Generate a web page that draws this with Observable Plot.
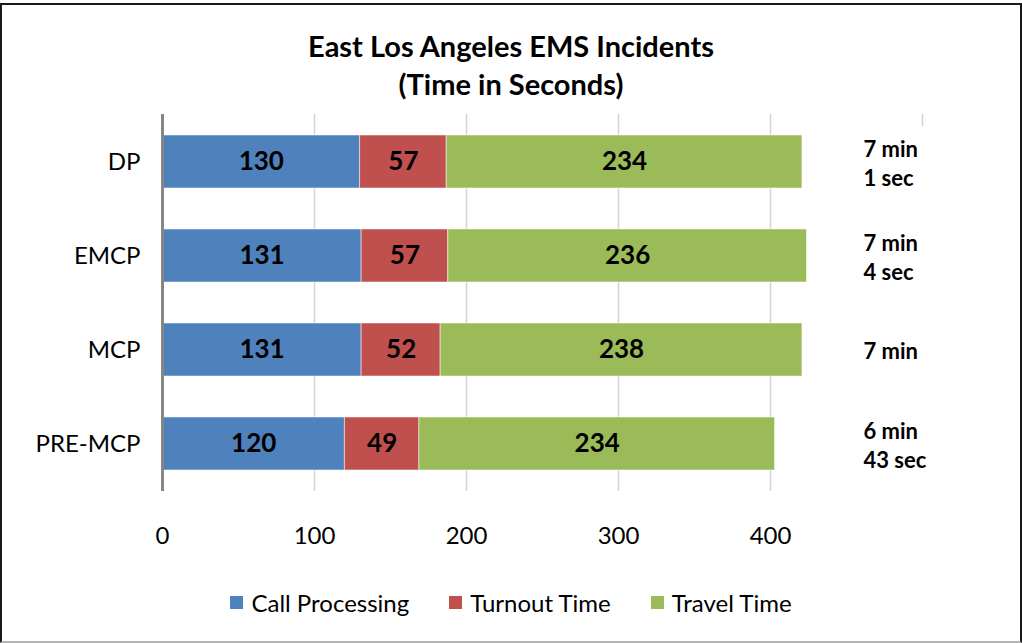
<!DOCTYPE html>
<html>
<head>
<meta charset="utf-8">
<script src="https://cdn.jsdelivr.net/npm/d3@7"></script>
<script src="https://cdn.jsdelivr.net/npm/@observablehq/plot@0.6"></script>
<style>
  html, body { margin: 0; padding: 0; background: #fff; }
  #wrap { position: relative; width: 1022px; height: 643px; overflow: hidden; font-family: Lato, "Open Sans", sans-serif; }
  #frame { position: absolute; left: 0; top: 3px; width: 1018px; height: 636px; border: 2px solid #1a1a1a; border-bottom-color: #b5b5b5; }
  #title { position: absolute; left: 0; top: 27px; width: 1022px; text-align: center; font-weight: 700; font-size: 29px; line-height: 38px; color: #000; }
  #chart { position: absolute; left: 0; top: 0; }
  #legend { position: absolute; left: 0; top: 588px; width: 1022px; display: flex; justify-content: center; align-items: center; font-size: 24px; color: #000; }
  .item { display: flex; align-items: center; margin: 0 20px; }
  .sw { width: 13px; height: 13px; margin-right: 8px; }
</style>
</head>
<body>
<div id="wrap">
  <div id="frame"></div>
  <div id="chart"></div>
  <div id="title"></div>
  <div id="legend"></div>
</div>
<script>
const titleLines = ["East Los Angeles EMS Incidents", "(Time in Seconds)"];
const categories = ["DP", "EMCP", "MCP", "PRE-MCP"];
const series = ["Call Processing", "Turnout Time", "Travel Time"];
const callProcessing = [130, 131, 131, 120];
const turnoutTime = [57, 57, 52, 49];
const travelTime = [234, 236, 238, 234];
const totalLabels = ["7 min\n1 sec", "7 min\n4 sec", "7 min", "6 min\n43 sec"];
const xTicks = [0, 100, 200, 300, 400];
const xMax = 500;
const colors = ["#4F81BD", "#C0504D", "#9BBB59"];

const seriesValues = [callProcessing, turnoutTime, travelTime];
const rows = categories.flatMap((cat, i) =>
  series.map((s, j) => ({cat, series: s, value: seriesValues[j][i]}))
);

document.getElementById("title").innerHTML = titleLines.join("<br>");

const chart = Plot.plot({
  width: 1022,
  height: 560,
  marginTop: 114,
  marginBottom: 69,
  marginLeft: 162,
  marginRight: 100,
  style: {fontFamily: "Lato, 'Open Sans', sans-serif", fontSize: "24px", color: "#000", background: "transparent"},
  x: {domain: [0, xMax], ticks: xTicks, tickSize: 0, tickPadding: 35, label: null},
  y: {domain: categories, paddingInner: 0.44, paddingOuter: 0.22, tickSize: 0, tickPadding: 22, label: null},
  color: {domain: series, range: colors},
  marks: [
    Plot.ruleX(xTicks.filter(d => d > 0), {stroke: "#d4d4d4", strokeWidth: 1.5}),
    Plot.ruleX([xMax], {stroke: "#d4d4d4", strokeWidth: 1.5, insetBottom: 365}),
    Plot.barX(rows, Plot.stackX({x: "value", y: "cat", fill: "series", stroke: "#ffffff", strokeOpacity: 0.5, strokeWidth: 1})),
    Plot.ruleX([0], {stroke: "#868686", strokeWidth: 3}),
    Plot.text(rows, Plot.stackX({x: "value", y: "cat", z: "series", text: "value", fontSize: 26, fontWeight: "bold", fill: "#000"})),
    Plot.text(categories, {y: d => d, text: (d, i) => totalLabels[i], frameAnchor: "right", dx: -59, textAnchor: "start", lineHeight: 1.32, fontSize: 22, fontWeight: "bold", fill: "#000"})
  ]
});
document.getElementById("chart").appendChild(chart);

const legend = document.getElementById("legend");
series.forEach((s, i) => {
  const item = document.createElement("div");
  item.className = "item";
  const sw = document.createElement("div");
  sw.className = "sw";
  sw.style.background = colors[i];
  const lab = document.createElement("span");
  lab.textContent = s;
  item.appendChild(sw);
  item.appendChild(lab);
  legend.appendChild(item);
});
</script>
</body>
</html>
